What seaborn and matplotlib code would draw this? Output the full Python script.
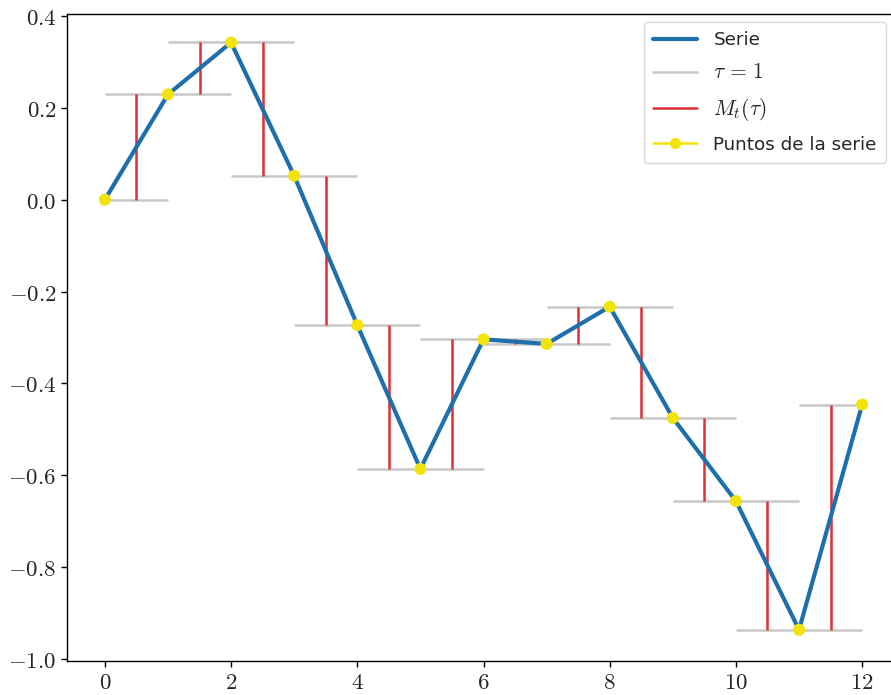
import numpy as np
import pandas as pd
import matplotlib
matplotlib.use("Agg")
import matplotlib.pyplot as plt
from matplotlib.lines import Line2D
from matplotlib.ticker import FuncFormatter
import seaborn as sns

# Series values
t = list(range(13))
serie = [0.0, 0.229, 0.342, 0.052, -0.273, -0.586, -0.304,
         -0.314, -0.233, -0.475, -0.656, -0.936, -0.446]
tau = 1

sns.set_style("ticks")
plt.rcParams["font.family"] = ["DejaVu Sans"]
plt.rcParams["mathtext.fontset"] = "cm"

df = pd.DataFrame({"t": t, "serie": serie})

fig = plt.figure(figsize=(8.91, 6.95), dpi=100)
W, H = 891, 695
ax = fig.add_axes([67 / W, 34 / H, (900 - 67) / W, (661 - 14) / H])

# horizontal band of width tau around each point (clipped to the data range)
x_lo = [max(t[0], ti - tau) for ti in t]
x_hi = [min(t[-1], ti + tau) for ti in t]
ax.hlines(serie, x_lo, x_hi, colors="#c8c8c8", linewidth=1.8, zorder=1)

# vertical jumps between consecutive points at the midpoints
mid = [ti + 0.5 for ti in t[:-1]]
ax.vlines(mid, serie[:-1], serie[1:], colors="#dd3035", linewidth=1.8, zorder=2)

sns.lineplot(data=df, x="t", y="serie", ax=ax, color="#1f6fad", linewidth=3.0,
             zorder=3, legend=False)
sns.scatterplot(data=df, x="t", y="serie", ax=ax, color="#f2e30c", s=75,
                edgecolor="none", zorder=4, legend=False)


def fmt(v, digits):
    if abs(v) < 1e-9:
        v = 0.0
    return f"${v:.{digits}f}$"


ax.set_xlim(-0.6, 12.6)
ax.set_ylim(-1.004, 0.404)
ax.set_xticks(np.arange(0, 13, 2))
ax.set_yticks(np.arange(-1.0, 0.41, 0.2))
ax.xaxis.set_major_formatter(FuncFormatter(lambda v, p: fmt(v, 0)))
ax.yaxis.set_major_formatter(FuncFormatter(lambda v, p: fmt(v, 1)))
ax.tick_params(labelsize=16.5, length=4, width=1, color="black")
ax.set_xlabel("")
ax.set_ylabel("")
for s in ax.spines.values():
    s.set_color("black")
    s.set_linewidth(1.0)

handles = [
    Line2D([], [], color="#1f6fad", linewidth=3.0),
    Line2D([], [], color="#c8c8c8", linewidth=1.8),
    Line2D([], [], color="#dd3035", linewidth=1.8),
    Line2D([], [], color="#f2e30c", linewidth=1.8, marker="o", markersize=7),
]
labels = ["Serie", r"$\tau\,=\,1$", r"$M_t(\tau)$", "Puntos de la serie"]
leg = fig.legend(handles, labels, loc="upper right",
                 bbox_to_anchor=(886 / W, 1 - 22 / H), borderaxespad=0,
                 prop={"family": "DejaVu Sans", "size": 13.2},
                 frameon=True, fancybox=True, handlelength=2.4,
                 labelspacing=0.72, borderpad=0.5, handletextpad=0.9)
leg.get_frame().set_edgecolor("#d0d0d0")
for txt in leg.get_texts()[1:3]:
    txt.set_fontsize(15.5)

fig.savefig("out.png", dpi=100)
